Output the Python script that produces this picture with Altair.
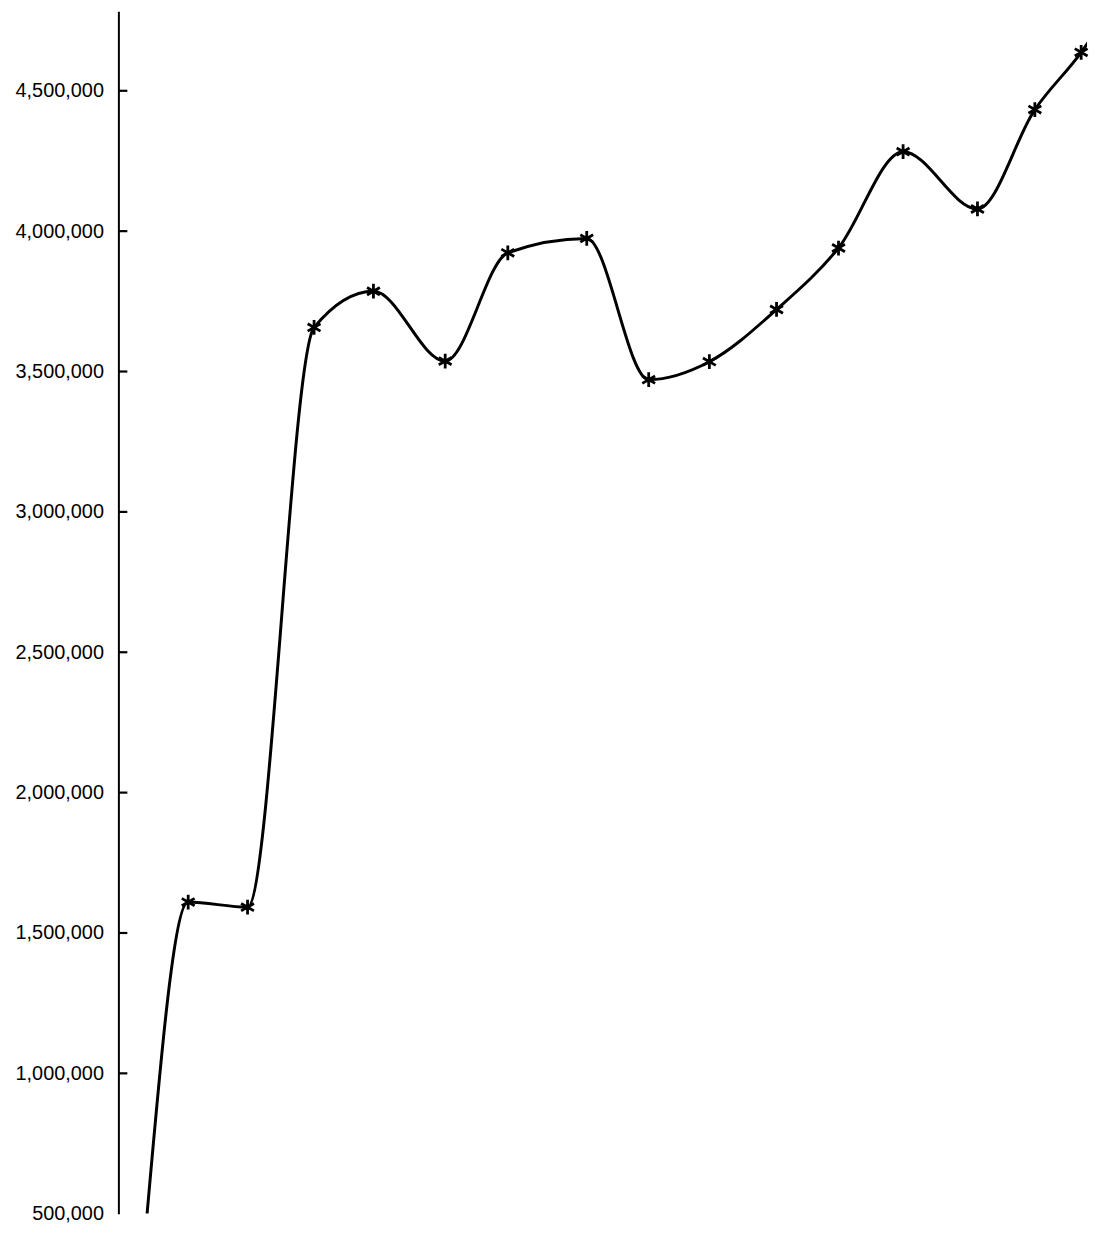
import altair as alt
import pandas as pd

# Period index and values
period = [0.39, 1.02, 1.93, 2.95, 3.86, 4.96, 5.92, 7.13, 8.08, 9.01,
          10.04, 10.99, 11.98, 13.12, 14.0, 14.71, 14.98]
value = [500000, 1610000, 1592000, 3657000, 3786000, 3537000, 3923000,
         3974000, 3471000, 3535000, 3721000, 3940000, 4283000, 4079000,
         4433000, 4637000, 4727000]
marked = [False, True, True, True, True, True, True, True, True, True,
          True, True, True, True, True, True, False]

tick_values = [500000, 1000000, 1500000, 2000000, 2500000, 3000000,
               3500000, 4000000, 4500000]

df = pd.DataFrame({"period": period, "value": value, "marked": marked})
ticks_df = pd.DataFrame({"value": [t for t in tick_values if t > 500000]})

xs = alt.Scale(domain=[-0.05, 14.80], nice=False, zero=False)
ys = alt.Scale(domain=[500000, 4783000], nice=False, zero=False)

asterisk = "M0,-1L0,1M-0.87,-0.5L0.87,0.5M-0.87,0.5L0.87,-0.5"

y_axis = alt.Axis(values=tick_values, format=",.0f", title=None,
                  ticks=False, grid=False, domainColor="black",
                  domainWidth=2, labelFontSize=20,
                  labelFont="Liberation Sans", labelColor="black",
                  labelPadding=15)

line = alt.Chart(df).mark_line(
    interpolate="monotone", color="black", strokeWidth=3, clip=True
).encode(
    x=alt.X("period:Q", scale=xs, axis=None),
    y=alt.Y("value:Q", scale=ys, axis=y_axis),
)

points = alt.Chart(df).transform_filter(
    alt.datum.marked == True
).mark_point(
    shape=asterisk, filled=False, stroke="black", strokeWidth=2.8,
    size=220, opacity=1
).encode(
    x=alt.X("period:Q", scale=xs, axis=None),
    y=alt.Y("value:Q", scale=ys, axis=y_axis),
)

tick_marks = alt.Chart(ticks_df).mark_rule(
    color="black", strokeWidth=2.2
).encode(
    y=alt.Y("value:Q", scale=ys, axis=y_axis),
    x=alt.value(0),
    x2=alt.value(9),
)

chart = alt.layer(line, points, tick_marks).properties(
    width=974, height=1209,
    padding={"left": 7, "top": 0, "right": 0, "bottom": 0},
    background="white",
).configure_view(strokeWidth=0)

chart.save("out.html", embed_options={"renderer": "svg", "actions": False})
